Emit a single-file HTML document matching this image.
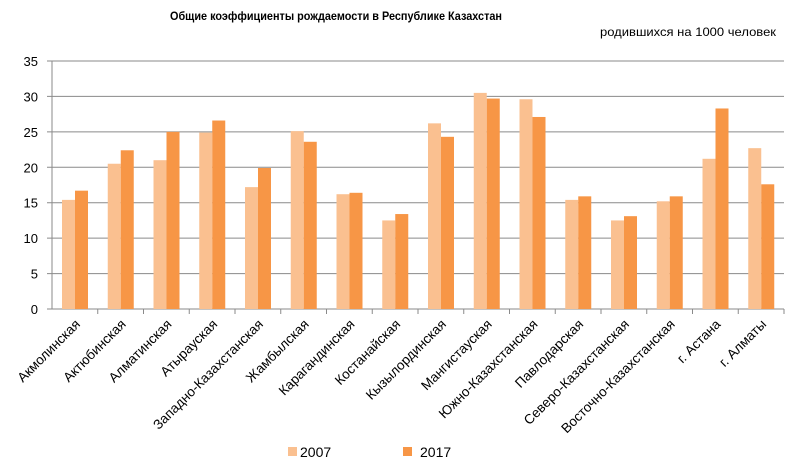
<!DOCTYPE html>
<html><head><meta charset="utf-8"><style>
body{margin:0;background:#fff}
svg{display:block;font-family:"Liberation Sans","DejaVu Sans",sans-serif}
</style></head><body>
<svg id="s" width="800" height="466" xmlns="http://www.w3.org/2000/svg">
<text x="170" y="20" font-size="12" font-weight="bold" textLength="332" lengthAdjust="spacingAndGlyphs" fill="#000">Общие коэффициенты  рождаемости  в Республике  Казахстан</text>
<text x="600" y="36" font-size="12" textLength="176" lengthAdjust="spacingAndGlyphs" fill="#000">родившихся на 1000 человек</text>
<g id="g"></g>
<rect x="288" y="447" width="9" height="9" fill="#fac090"/>
<text x="300" y="457" font-size="14">2007</text>
<rect x="403" y="447" width="9" height="9" fill="#f79646"/>
<text x="420" y="457" font-size="14">2017</text>
</svg>
<script>
var names=["Акмолинская","Актюбинская","Алматинская","Атырауская","Западно-Казахстанская","Жамбылская","Карагандинская","Костанайская","Кызылординская","Мангистауская","Южно-Казахстанская","Павлодарская","Северо-Казахстанская","Восточно-Казахстанская","г. Астана","г. Алматы"];
var a=[15.4,20.5,21,24.9,17.2,25.1,16.2,12.5,26.2,30.5,29.6,15.4,12.5,15.2,21.2,22.7];
var b=[16.7,22.4,25,26.6,19.9,23.6,16.4,13.4,24.3,29.7,27.1,15.9,13.1,15.9,28.3,17.6];
var x0=52,x1=784,y0=309,k=(309-61)/35,w=(x1-x0)/16,h='';
for(var i=0;i<=7;i++){var y=y0-i*5*k;h+='<line x1="'+(x0-5)+'" x2="'+x1+'" y1="'+y+'" y2="'+y+'" stroke="#8a8a8a" stroke-width="1"/>';h+='<text x="38" y="'+(y+5)+'" font-size="13" text-anchor="end">'+(i*5)+'</text>';}
h+='<line x1="'+x0+'" x2="'+x0+'" y1="61" y2="'+y0+'" stroke="#8a8a8a"/>';
for(var i=0;i<16;i++){var cx=x0+i*w;
h+='<rect x="'+(cx+10)+'" y="'+(y0-a[i]*k)+'" width="13" height="'+(a[i]*k)+'" fill="#fac090"/>';
h+='<rect x="'+(cx+23)+'" y="'+(y0-b[i]*k)+'" width="13" height="'+(b[i]*k)+'" fill="#f79646"/>';
h+='<line x1="'+(cx+w)+'" x2="'+(cx+w)+'" y1="'+y0+'" y2="'+(y0+5)+'" stroke="#8a8a8a"/>';
var tx=cx+w/2+6,ty=325;
h+='<text x="'+tx+'" y="'+ty+'" font-size="13.5" text-anchor="end" transform="rotate(-45 '+tx+' '+ty+')">'+names[i]+'</text>';}
document.getElementById('g').innerHTML=h;
</script>
</body></html>
